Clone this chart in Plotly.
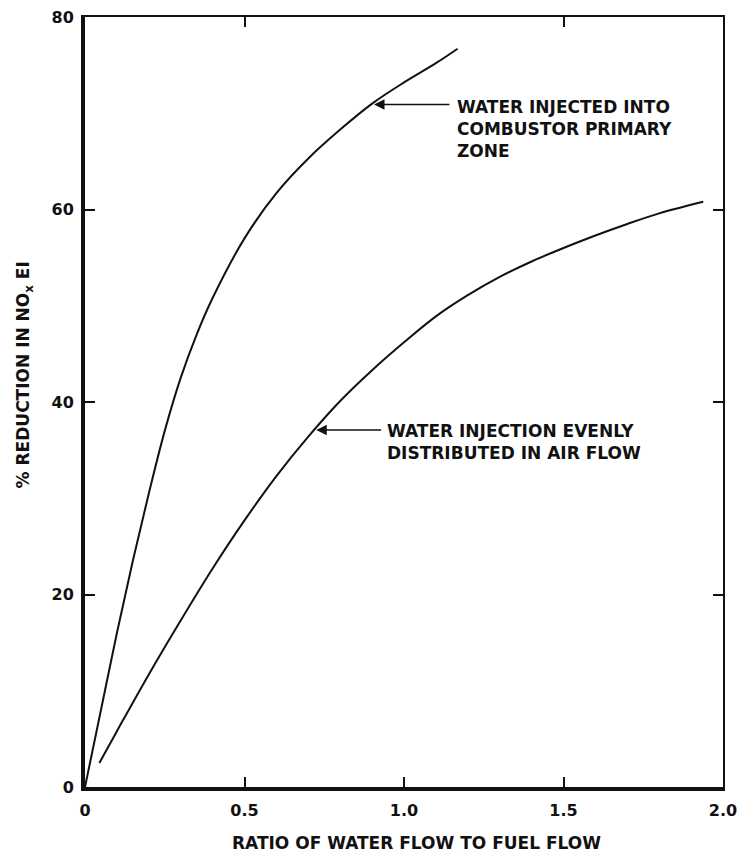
import plotly.graph_objects as go

# Curve: water injected into combustor primary zone
primary_x = [0.0, 0.05, 0.1, 0.15, 0.2, 0.25, 0.3, 0.35, 0.4, 0.5, 0.6, 0.7, 0.8, 0.9, 1.0, 1.1, 1.168]
primary_y = [0.0, 8.0, 16.0, 23.5, 30.5, 37.0, 42.5, 47.0, 50.8, 57.0, 61.7, 65.3, 68.3, 71.0, 73.2, 75.2, 76.7]

# Curve: water injection evenly distributed in air flow
even_x = [0.045, 0.1, 0.2, 0.3, 0.4, 0.5, 0.6, 0.7, 0.8, 0.9, 1.0, 1.1, 1.2, 1.3, 1.4, 1.5, 1.6, 1.7, 1.8, 1.938]
even_y = [2.5, 5.8, 11.7, 17.3, 22.7, 27.7, 32.3, 36.4, 40.1, 43.3, 46.2, 48.9, 51.1, 53.0, 54.6, 56.0, 57.3, 58.5, 59.6, 60.8]

x_ticks = [0, 0.5, 1.0, 1.5, 2.0]
x_tick_labels = ["0", "0.5", "1.0", "1.5", "2.0"]
y_ticks = [0, 20, 40, 60, 80]
y_tick_labels = ["0", "20", "40", "60", "80"]

label_primary = "WATER INJECTED INTO<br>COMBUSTOR PRIMARY<br>ZONE"
label_even = "WATER INJECTION EVENLY<br>DISTRIBUTED IN AIR FLOW"
x_title = "RATIO OF WATER FLOW TO FUEL FLOW"
y_title = "% REDUCTION IN NO<sub>x</sub> EI"

FONT = "DejaVu Sans"
INK = "#111111"

fig = go.Figure()
fig.add_trace(go.Scatter(x=primary_x, y=primary_y, mode="lines",
                         line=dict(color=INK, width=2, shape="spline", smoothing=1.0),
                         hoverinfo="skip", showlegend=False))
fig.add_trace(go.Scatter(x=even_x, y=even_y, mode="lines",
                         line=dict(color=INK, width=2, shape="spline", smoothing=1.0),
                         hoverinfo="skip", showlegend=False))
# invisible trace to anchor the mirror (top/right) axes
fig.add_trace(go.Scatter(x=even_x, y=even_y, mode="lines", xaxis="x2", yaxis="y2",
                         line=dict(color="rgba(0,0,0,0)", width=0),
                         hoverinfo="skip", showlegend=False))

tickfont = dict(family=FONT, size=16, color=INK, weight="bold")

fig.update_layout(
    width=742, height=858,
    margin=dict(l=85, r=19, t=17, b=71),
    paper_bgcolor="white", plot_bgcolor="white",
    font=dict(family=FONT, color=INK),
    xaxis=dict(range=[0, 2.0], tickvals=x_ticks, ticktext=x_tick_labels, automargin=False,
               showgrid=False, zeroline=False, showline=True, linecolor=INK, linewidth=4,
               ticks="inside", ticklen=10, tickwidth=2, tickcolor=INK,
               tickfont=tickfont, ticklabelstandoff=6, ticklabeloverflow="allow"),
    yaxis=dict(range=[0, 80], tickvals=y_ticks, ticktext=y_tick_labels, automargin=False,
               showgrid=False, zeroline=False, showline=True, linecolor=INK, linewidth=4,
               ticks="inside", ticklen=10, tickwidth=2, tickcolor=INK,
               tickfont=tickfont, ticklabelstandoff=4, ticklabeloverflow="allow"),
    xaxis2=dict(range=[0, 2.0], overlaying="x", side="top", anchor="y2", automargin=False,
                tickvals=[0.5, 1.5], showticklabels=False, showgrid=False, zeroline=False,
                showline=True, linecolor=INK, linewidth=2,
                ticks="inside", ticklen=10, tickwidth=2, tickcolor=INK),
    yaxis2=dict(range=[0, 80], overlaying="y", side="right", anchor="x2", automargin=False,
                tickvals=[20, 40, 60], showticklabels=False, showgrid=False, zeroline=False,
                showline=True, linecolor=INK, linewidth=2,
                ticks="inside", ticklen=10, tickwidth=2, tickcolor=INK),
)

# arrows
fig.add_annotation(x=0.906, y=70.9, ax=1.147, ay=70.9, axref="x", ayref="y",
                   xref="x", yref="y", text="", showarrow=True,
                   arrowhead=2, arrowsize=1.4, arrowwidth=1.5, arrowcolor=INK)
fig.add_annotation(x=0.725, y=37.1, ax=0.933, ay=37.1, axref="x", ayref="y",
                   xref="x", yref="y", text="", showarrow=True,
                   arrowhead=2, arrowsize=1.4, arrowwidth=1.5, arrowcolor=INK)

labelfont = dict(family=FONT, size=17, color=INK, weight="bold")

# labels
fig.add_annotation(x=1.16, y=68.4, xref="x", yref="y", text=label_primary,
                   showarrow=False, xanchor="left", yanchor="middle", align="left",
                   font=labelfont)
fig.add_annotation(x=0.94, y=35.8, xref="x", yref="y", text=label_even,
                   showarrow=False, xanchor="left", yanchor="middle", align="left",
                   font=labelfont)

# axis titles
fig.add_annotation(x=0.519, y=-0.0727, xref="paper", yref="paper", text=x_title,
                   showarrow=False, xanchor="center", yanchor="middle",
                   font=labelfont)
fig.add_annotation(x=-0.095, y=0.535, xref="paper", yref="paper", text=y_title,
                   showarrow=False, xanchor="center", yanchor="middle", textangle=-90,
                   font=labelfont)

# remove the page's default 8px body margin so the figure fills the window exactly
fig.write_html("out.html", config={"displayModeBar": False},
               post_script="document.body.style.margin='0';")
